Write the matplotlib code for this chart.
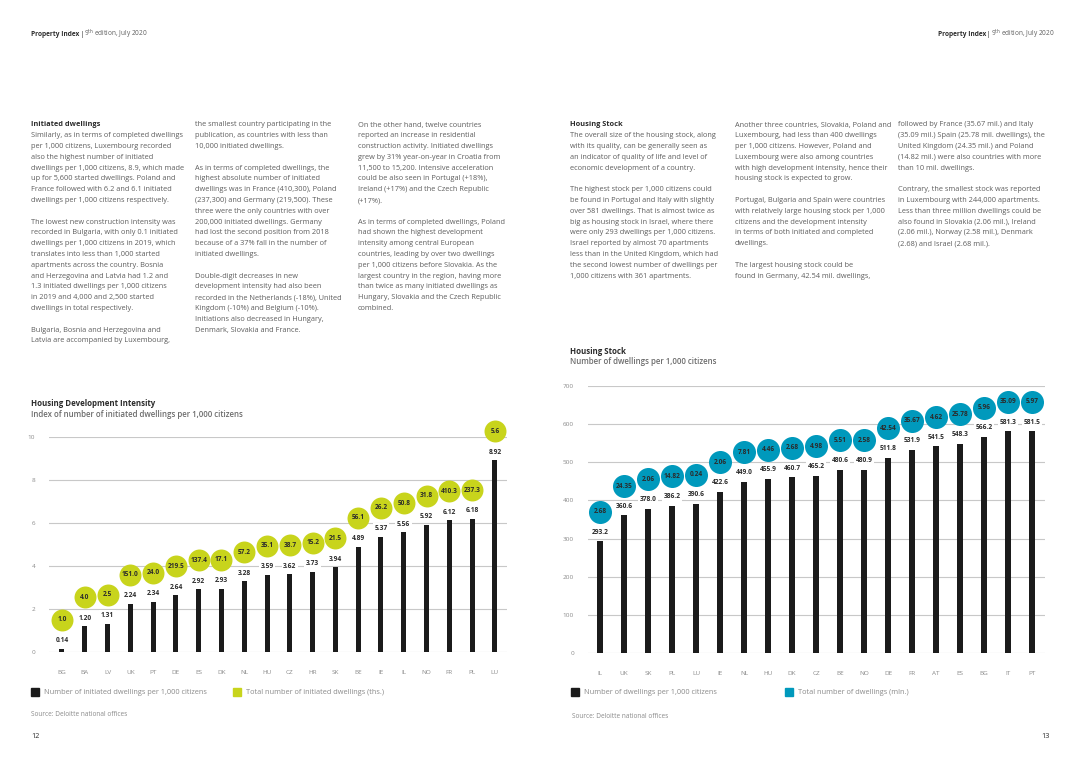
import matplotlib.pyplot as plt

plt.rcParams['font.family'] = ['Open Sans', 'DejaVu Sans']

# --- data: housing development intensity (left page) ---
hdi_countries = ['BG', 'BA', 'LV', 'UK', 'PT', 'DE', 'ES', 'DK', 'NL', 'HU',
                 'CZ', 'HR', 'SK', 'BE', 'IE', 'IL', 'NO', 'FR', 'PL', 'LU']
hdi_per_1000 = [0.14, 1.20, 1.31, 2.24, 2.34, 2.64, 2.92, 2.93, 3.28, 3.59,
                3.62, 3.73, 3.94, 4.89, 5.37, 5.56, 5.92, 6.12, 6.18, 8.92]
hdi_total_ths = [1.0, 4.0, 2.5, 151.0, 24.0, 219.5, 137.4, 17.1, 57.2, 35.1,
                 38.7, 15.2, 21.5, 56.1, 26.2, 50.8, 31.8, 410.3, 237.3, 5.6]
hdi_yticks = [0, 2, 4, 6, 8, 10]

# --- data: housing stock (right page) ---
hs_countries = ['IL', 'UK', 'SK', 'PL', 'LU', 'IE', 'NL', 'HU', 'DK', 'CZ',
                'BE', 'NO', 'DE', 'FR', 'AT', 'ES', 'BG', 'IT', 'PT']
hs_per_1000 = [293.2, 360.6, 378.0, 386.2, 390.6, 422.6, 449.0, 455.9, 460.7, 465.2,
               480.6, 480.9, 511.8, 531.9, 541.5, 548.3, 566.2, 581.3, 581.5]
hs_total_mln = [2.68, 24.35, 2.06, 14.82, 0.24, 2.06, 7.81, 4.46, 2.68, 4.98,
                5.51, 2.58, 42.54, 35.67, 4.62, 25.78, 5.96, 35.09, 5.97]
hs_yticks = [0, 100, 200, 300, 400, 500, 600, 700]

GREEN = '#c8d41c'
BLUE = '#0099bc'
BAR = '#1b1b1b'
GRID = '#c8c8c8'
BODY = '#5e5e5e'
HEAD = '#2b2b2b'

W, H = 1080, 764
fig = plt.figure(figsize=(10.8, 7.64), dpi=100)


def fx(px):
    return px / W


def fy(py):
    return 1 - py / H


def column(x, y0, lines, step=10.8, bold_first=False):
    # draw a block of body text line by line
    for i, line in enumerate(lines):
        if not line:
            continue
        bold = bold_first and i == 0
        fig.text(fx(x), fy(y0 + i * step), line, fontsize=5.3,
                 color=HEAD if bold else BODY,
                 fontweight='bold' if bold else 'normal', va='center')


# headers
for x0 in (31, 938):
    fig.text(fx(x0), fy(34), 'Property Index', fontsize=4.7, fontweight='bold',
             color=HEAD, va='center')
    fig.text(fx(x0 + 49), fy(34), '|', fontsize=4.7, color=HEAD, va='center')
    fig.text(fx(x0 + 53), fy(34), '9$^{\\rm th}$ edition, July 2020', fontsize=4.7,
             color=BODY, va='center')

column(31, 125, [
    'Initiated dwellings',
    'Similarly, as in terms of completed dwellings',
    'per 1,000 citizens, Luxembourg recorded',
    'also the highest number of initiated',
    'dwellings per 1,000 citizens, 8.9, which made',
    'up for 5,600 started dwellings. Poland and',
    'France followed with 6.2 and 6.1 initiated',
    'dwellings per 1,000 citizens respectively.',
    '',
    'The lowest new construction intensity was',
    'recorded in Bulgaria, with only 0.1 initiated',
    'dwellings per 1,000 citizens in 2019, which',
    'translates into less than 1,000 started',
    'apartments across the country. Bosnia',
    'and Herzegovina and Latvia had 1.2 and',
    '1.3 initiated dwellings per 1,000 citizens',
    'in 2019 and 4,000 and 2,500 started',
    'dwellings in total respectively.',
    '',
    'Bulgaria, Bosnia and Herzegovina and',
    'Latvia are accompanied by Luxembourg,',
], bold_first=True)

column(195, 125, [
    'the smallest country participating in the',
    'publication, as countries with less than',
    '10,000 initiated dwellings.',
    '',
    'As in terms of completed dwellings, the',
    'highest absolute number of initiated',
    'dwellings was in France (410,300), Poland',
    '(237,300) and Germany (219,500). These',
    'three were the only countries with over',
    '200,000 initiated dwellings. Germany',
    'had lost the second position from 2018',
    'because of a 37% fall in the number of',
    'initiated dwellings.',
    '',
    'Double-digit decreases in new',
    'development intensity had also been',
    'recorded in the Netherlands (-18%), United',
    'Kingdom (-10%) and Belgium (-10%).',
    'Initiations also decreased in Hungary,',
    'Denmark, Slovakia and France.',
])

column(358, 125, [
    'On the other hand, twelve countries',
    'reported an increase in residential',
    'construction activity. Initiated dwellings',
    'grew by 31% year-on-year in Croatia from',
    '11,500 to 15,200. Intensive acceleration',
    'could be also seen in Portugal (+18%),',
    'Ireland (+17%) and the Czech Republic',
    '(+17%).',
    '',
    'As in terms of completed dwellings, Poland',
    'had shown the highest development',
    'intensity among central European',
    'countries, leading by over two dwellings',
    'per 1,000 citizens before Slovakia. As the',
    'largest country in the region, having more',
    'than twice as many initiated dwellings as',
    'Hungary, Slovakia and the Czech Republic',
    'combined.',
])

column(570, 125, [
    'Housing Stock',
    'The overall size of the housing stock, along',
    'with its quality, can be generally seen as',
    'an indicator of quality of life and level of',
    'economic development of a country.',
    '',
    'The highest stock per 1,000 citizens could',
    'be found in Portugal and Italy with slightly',
    'over 581 dwellings. That is almost twice as',
    'big as housing stock in Israel, where there',
    'were only 293 dwellings per 1,000 citizens.',
    'Israel reported by almost 70 apartments',
    'less than in the United Kingdom, which had',
    'the second lowest number of dwellings per',
    '1,000 citizens with 361 apartments.',
], bold_first=True)

column(735, 125, [
    'Another three countries, Slovakia, Poland and',
    'Luxembourg, had less than 400 dwellings',
    'per 1,000 citizens. However, Poland and',
    'Luxembourg were also among countries',
    'with high development intensity, hence their',
    'housing stock is expected to grow.',
    '',
    'Portugal, Bulgaria and Spain were countries',
    'with relatively large housing stock per 1,000',
    'citizens and the development intensity',
    'in terms of both initiated and completed',
    'dwellings.',
    '',
    'The largest housing stock could be',
    'found in Germany, 42.54 mil. dwellings,',
])

column(898, 125, [
    'followed by France (35.67 mil.) and Italy',
    '(35.09 mil.) Spain (25.78 mil. dwellings), the',
    'United Kingdom (24.35 mil.) and Poland',
    '(14.82 mil.) were also countries with more',
    'than 10 mil. dwellings.',
    '',
    'Contrary, the smallest stock was reported',
    'in Luxembourg with 244,000 apartments.',
    'Less than three million dwellings could be',
    'also found in Slovakia (2.06 mil.), Ireland',
    '(2.06 mil.), Norway (2.58 mil.), Denmark',
    '(2.68) and Israel (2.68 mil.).',
])


def bar_chart(rect, countries, values, totals, yticks, ymax, bub_off, lab_off,
              bub_color, bub_fmt, val_fmt, bub_size, xpad):
    ax = fig.add_axes(rect)
    xs = list(range(len(countries)))
    ax.bar(xs, values, width=0.22, color=BAR, zorder=3)
    ax.set_xlim(-xpad[0], len(countries) - 1 + xpad[1])
    ax.set_ylim(0, ymax)
    ax.set_yticks(yticks)
    ax.set_xticks(xs)
    ax.set_xticklabels(countries)
    ax.tick_params(length=0, labelsize=4.6, labelcolor='#8a8a8a')
    ax.tick_params(axis='x', pad=13)
    ax.tick_params(axis='y', pad=10)
    ax.grid(axis='y', color=GRID, linewidth=0.8, zorder=0)
    for s in ax.spines.values():
        s.set_visible(False)
    ax.set_facecolor('none')
    for x, v, t in zip(xs, values, totals):
        ax.text(x, v + lab_off, val_fmt.format(v), ha='center', va='center',
                fontsize=4.8, fontweight='bold', color=HEAD, zorder=4,
                bbox=dict(boxstyle='square,pad=0.25', fc='white', ec='none'))
        ax.scatter([x], [v + bub_off], s=bub_size, color=bub_color, zorder=5,
                   clip_on=False, linewidths=0)
        ax.text(x, v + bub_off, bub_fmt.format(t), ha='center', va='center',
                fontsize=4.7, fontweight='bold', color=HEAD, zorder=6)
    return ax


# left chart
fig.text(fx(31), fy(403), 'Housing Development Intensity', fontsize=5.7,
         fontweight='bold', color=HEAD, va='center')
fig.text(fx(31), fy(414), 'Index of number of initiated dwellings per 1,000 citizens',
         fontsize=5.7, fontweight='semibold', color='#6b6b6b', va='center')
bar_chart([fx(49), fy(652), fx(507) - fx(49), fy(437) - fy(652)],
          hdi_countries, hdi_per_1000, hdi_total_ths, hdi_yticks, 10,
          1.35, 0.38, GREEN, '{:.1f}', '{:.2f}', 250, (0.57, 0.53))

# right chart
fig.text(fx(570), fy(351), 'Housing Stock', fontsize=5.7,
         fontweight='bold', color=HEAD, va='center')
fig.text(fx(570), fy(362), 'Number of dwellings per 1,000 citizens',
         fontsize=5.7, fontweight='semibold', color='#6b6b6b', va='center')
bar_chart([fx(588), fy(653), fx(1045) - fx(588), fy(386) - fy(653)],
          hs_countries, hs_per_1000, hs_total_mln, hs_yticks, 700,
          77, 24, BLUE, '{:.2f}', '{:.1f}', 275, (0.5, 0.54))

# legends, sources, page numbers
legend_items = [
    (35, 'Number of initiated dwellings per 1,000 citizens', BAR),
    (237, 'Total number of initiated dwellings (ths.)', GREEN),
    (575, 'Number of dwellings per 1,000 citizens', BAR),
    (789, 'Total number of dwellings (mln.)', BLUE),
]
for x0, label, c in legend_items:
    fig.patches.append(plt.Rectangle((fx(x0 - 4), fy(696)), 8 / W, 8 / H,
                                     transform=fig.transFigure, color=c))
    fig.text(fx(x0 + 9), fy(692), label, fontsize=5.3, color='#8a8a8a', va='center')

fig.text(fx(31), fy(715), 'Source: Deloitte national offices', fontsize=4.7,
         color='#8a8a8a', va='center')
fig.text(fx(572), fy(716), 'Source: Deloitte national offices', fontsize=4.7,
         color='#8a8a8a', va='center')
fig.text(fx(31), fy(736), '12', fontsize=5.2, color=HEAD, va='center')
fig.text(fx(1050), fy(736), '13', fontsize=5.2, color=HEAD, va='center', ha='right')

fig.savefig('out.png', dpi=100, facecolor='white')
